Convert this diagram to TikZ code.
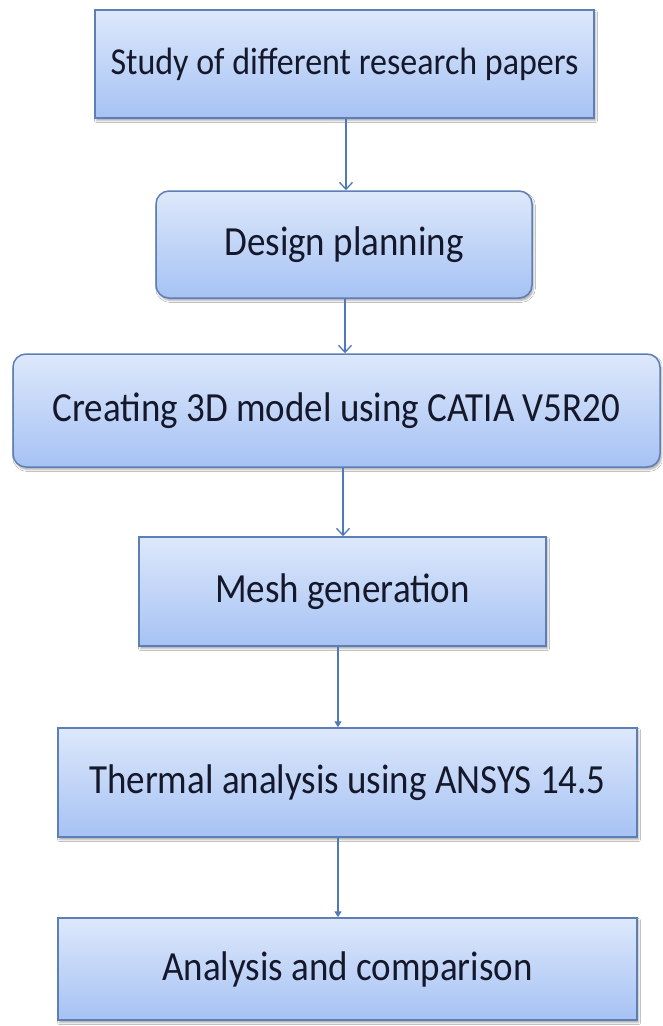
\documentclass[tikz,border=0pt]{standalone}
\usepackage{fontspec}
\setmainfont{Carlito}
\usetikzlibrary{arrows.meta,shadows.blur}
\definecolor{topfill}{HTML}{DDE8FB}
\definecolor{botfill}{HTML}{A6C2F4}
\definecolor{edge}{HTML}{5E7FB6}
\definecolor{linec}{HTML}{4F79B8}
\definecolor{txt}{HTML}{15182A}
\newcommand{\boxtext}[1]{\scalebox{1}[1.12]{#1}}
\tikzset{
  box/.style={draw=edge, line width=1.5pt, top color=topfill, bottom color=botfill,
    text=txt, font=\fontsize{37}{42}\selectfont, inner sep=0pt, anchor=center,
    blur shadow={shadow xshift=1.5pt, shadow yshift=-2.5pt, shadow blur steps=4, shadow opacity=35, shadow blur radius=2pt}},
  rbox/.style={box, rounded corners=13pt},
  openarr/.style={draw=linec, line width=1.3pt, -{Straight Barb[length=7pt,width=13pt,line width=1.3pt]}},
  fillarr/.style={draw=linec, line width=1.6pt, -{Triangle[length=6pt,width=7pt]}}
}
\begin{document}
\begin{tikzpicture}[x=1pt,y=-1pt]
\useasboundingbox[fill=white] (0,0) rectangle (662,1026);
\node[box, minimum width=499pt, minimum height=108pt, font=\fontsize{34}{40}\selectfont] (b1) at (344.5,64) {\boxtext{Study of different research papers}};
\node[rbox, minimum width=376pt, minimum height=107pt] (b2) at (344,244.5) {\boxtext{Design planning}};
\node[rbox, minimum width=647pt, minimum height=113pt] (b3) at (336.5,410.5) {\boxtext{Creating 3D model using CATIA V5R20}};
\node[box, minimum width=407pt, minimum height=109pt] (b4) at (342.5,591.5) {\boxtext{Mesh generation}};
\node[box, minimum width=579pt, minimum height=109pt] (b5) at (347.5,782.5) {\boxtext{Thermal analysis using ANSYS 14.5}};
\node[box, minimum width=579pt, minimum height=102pt] (b6) at (347.5,969) {\boxtext{Analysis and comparison}};
\coordinate (x1) at (346,0);
\coordinate (x2) at (345,0);
\coordinate (x3) at (343,0);
\coordinate (x4) at (338,0);
\draw[openarr] (b1.south -| x1) -- (b2.north -| x1);
\draw[openarr] (b2.south -| x2) -- (b3.north -| x2);
\draw[openarr] (b3.south -| x3) -- (b4.north -| x3);
\draw[fillarr] (b4.south -| x4) -- (b5.north -| x4);
\draw[fillarr] (b5.south -| x4) -- (b6.north -| x4);
\end{tikzpicture}
\end{document}
